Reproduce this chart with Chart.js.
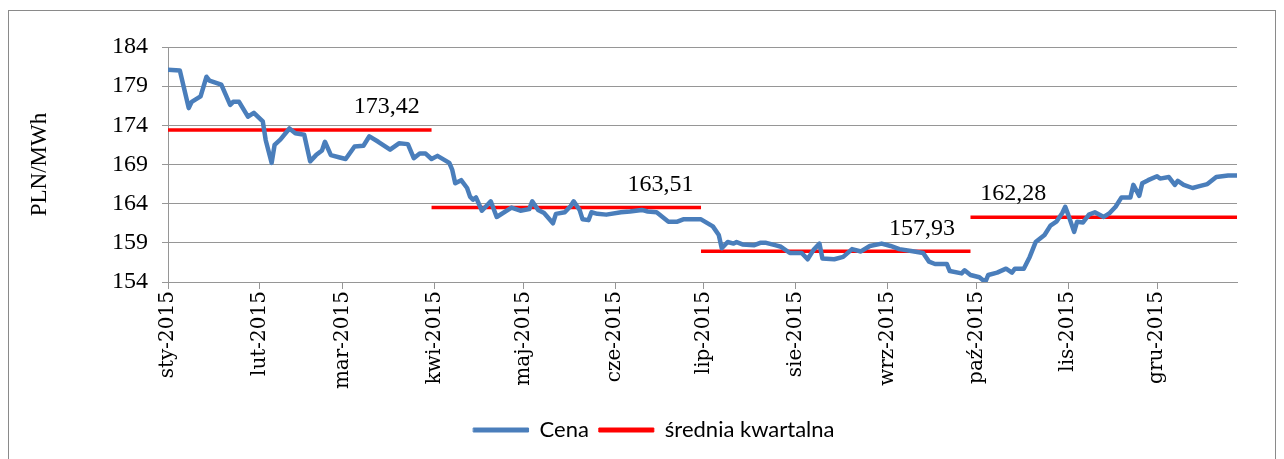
<!DOCTYPE html>
<html lang="pl">
<head>
<meta charset="utf-8">
<title>Cena energii 2015</title>
<script src="https://cdn.jsdelivr.net/npm/chart.js@4.4.1/dist/chart.umd.min.js"></script>
<style>
  html, body { margin: 0; padding: 0; background: #fff; }
  #wrap { width: 1284px; height: 459px; position: relative; }
</style>
</head>
<body>
<div id="wrap"><canvas id="chart"></canvas></div>
<script>
// Dzień roku (1 sty = 0) i cena w PLN/MWh
const dni = [0, 4, 7, 8, 11, 13, 14, 18, 21, 22, 24, 27, 29, 32, 33, 35, 36, 38, 41, 43, 46, 48, 50, 52, 53, 55, 58,
  60, 63, 66, 68, 71, 75, 78, 81, 83, 85, 87, 89, 91, 95, 96, 97, 99, 101, 102, 103, 104, 106, 109, 111, 116, 119,
  122, 123, 125, 127, 130, 131, 134, 136, 137, 139, 140, 142, 143, 145, 148, 153, 156, 160, 162, 165, 169, 172, 174, 180,
  184, 186, 187, 189, 191, 192, 194, 198, 200, 202, 205, 207, 210, 212, 214, 216, 218, 220, 221, 225, 228, 231, 234, 237, 241,
  244, 247, 252, 255, 257, 259, 263, 264, 268, 269, 271, 274, 276, 277, 280, 283, 285, 286, 289, 291, 293, 296, 298, 300, 302,
  303, 304, 306, 307, 309, 311, 313, 316, 318, 320, 322, 325, 326, 328, 329, 331, 334, 335, 338, 340, 341, 343, 346, 348, 351, 354, 358, 361];
const cena = [181.1, 181.0, 176.2, 177.0, 177.7, 180.2, 179.7, 179.2, 176.6, 177.0, 177.0, 175.1, 175.6, 174.5, 172.1, 169.2, 171.5, 172.2, 173.6, 173.0, 172.8, 169.4, 170.2, 170.8, 171.9, 170.2, 169.9,
  169.7, 171.3, 171.4, 172.6, 171.9, 170.9, 171.7, 171.6, 169.8, 170.4, 170.4, 169.7, 170.1, 169.2, 168.3, 166.6, 167.0, 166.0, 164.9, 164.5, 164.8, 163.1, 164.3, 162.3, 163.5, 163.1,
  163.3, 164.3, 163.2, 162.8, 161.5, 162.7, 162.9, 163.7, 164.3, 163.2, 162.0, 161.9, 162.9, 162.7, 162.6, 162.9, 163.0, 163.2, 163.0, 162.9, 161.7, 161.7, 162.0, 162.0,
  161.1, 160.0, 158.3, 159.1, 158.9, 159.1, 158.8, 158.7, 159.0, 159.0, 158.7, 158.5, 157.7, 157.7, 157.7, 156.9, 158.1, 158.9, 157.0, 156.9, 157.2, 158.2, 157.9, 158.6, 158.9,
  158.6, 158.2, 157.9, 157.7, 156.6, 156.3, 156.3, 155.4, 155.1, 155.5, 154.9, 154.6, 154.0, 154.9, 155.2, 155.7, 155.2, 155.7, 155.7, 157.2, 159.1, 160.0, 161.2, 161.7, 162.8,
  163.6, 162.6, 160.4, 161.7, 161.6, 162.6, 162.9, 162.3, 162.8, 163.6, 164.8, 164.8, 166.4, 165.0, 166.6, 167.0, 167.5, 167.2, 167.4, 166.4, 166.9, 166.4, 166.0, 166.2, 166.5, 167.4, 167.6, 167.6];

// Średnie kwartalne: od dnia, do dnia, wartość
const kwartalOd = [0, 89, 180, 271];
const kwartalDo = [89, 180, 271, 361];
const sredniaKwartalna = [173.42, 163.51, 157.93, 162.28];

// Oś X: pierwsze dni miesięcy i ich etykiety
const miesiacDzien = [0, 31, 59, 90, 120, 151, 181, 212, 243, 273, 304, 334];
const miesiacEtykieta = ['sty-2015', 'lut-2015', 'mar-2015', 'kwi-2015', 'maj-2015', 'cze-2015',
  'lip-2015', 'sie-2015', 'wrz-2015', 'paź-2015', 'lis-2015', 'gru-2015'];

// Oś Y
const yTicks = [154, 159, 164, 169, 174, 179, 184];

const BLUE = '#4A7EBB';
const RED = '#FF0000';
const GRID = '#969696';
const SERIF = "'Liberation Serif', 'Times New Roman', serif";
const WIDE_SERIF = "'DejaVu Serif', serif";

const cenaPoints = dni.map((d, i) => ({ x: d, y: cena[i] }));

// Red segments in one dataset, broken by null points
const sredniaPoints = [];
sredniaKwartalna.forEach((v, i) => {
  if (i > 0) sredniaPoints.push({ x: kwartalOd[i], y: null });
  sredniaPoints.push({ x: kwartalOd[i], y: v });
  sredniaPoints.push({ x: kwartalDo[i], y: v });
});

// Outer chart frame like the Excel chart area
const framePlugin = {
  id: 'frame',
  beforeDraw(chart) {
    const ctx = chart.ctx;
    ctx.save();
    ctx.fillStyle = '#fff';
    ctx.fillRect(0, 0, chart.width, chart.height);
    ctx.strokeStyle = '#8A8A8A';
    ctx.lineWidth = 1;
    ctx.strokeRect(8.5, 10.5, 1267, 470);
    ctx.restore();
  }
};

// Value labels above each quarterly average line
const avgLabelPlugin = {
  id: 'avgLabels',
  afterDatasetsDraw(chart, args, opts) {
    const { ctx, scales: { x, y } } = chart;
    ctx.save();
    ctx.font = opts.font;
    ctx.fillStyle = '#000';
    ctx.textAlign = 'center';
    ctx.textBaseline = 'middle';
    sredniaKwartalna.forEach((v, i) => {
      const x0 = x.getPixelForValue(kwartalOd[i]);
      const x1 = x.getPixelForValue(kwartalDo[i]);
      const px = x0 + (x1 - x0) * opts.anchor[i];
      const py = y.getPixelForValue(v) - opts.offset;
      ctx.fillText(v.toFixed(2).replace('.', ','), px, py);
    });
    ctx.restore();
  }
};

new Chart(document.getElementById('chart'), {
  type: 'line',
  data: {
    datasets: [{
      label: 'Cena',
      data: cenaPoints,
      borderColor: BLUE,
      backgroundColor: BLUE,
      borderWidth: 4.5,
      borderJoinStyle: 'round',
      borderCapStyle: 'round',
      pointRadius: 0,
      tension: 0
    }, {
      label: 'średnia kwartalna',
      data: sredniaPoints,
      borderColor: RED,
      backgroundColor: RED,
      borderWidth: 3.5,
      pointRadius: 0,
      spanGaps: false,
      tension: 0
    }]
  },
  options: {
    responsive: true,
    maintainAspectRatio: false,
    animation: false,
    layout: { padding: { left: 71, right: 47, top: 47, bottom: 8 } },
    scales: {
      x: {
        type: 'linear',
        min: 0,
        max: 361,
        afterBuildTicks: (scale) => {
          scale.ticks = miesiacDzien.map(v => ({ value: v }));
        },
        afterFit: (scale) => { scale.height = 127; },
        grid: {
          drawOnChartArea: false,
          drawTicks: true,
          tickLength: 7,
          color: GRID
        },
        border: { color: GRID, width: 1 },
        ticks: {
          autoSkip: false,
          minRotation: 90,
          maxRotation: 90,
          padding: 2,
          color: '#000',
          font: { family: WIDE_SERIF, size: 20 },
          callback: (v) => miesiacEtykieta[miesiacDzien.indexOf(v)]
        }
      },
      y: {
        min: 154,
        max: 184,
        afterBuildTicks: (scale) => {
          scale.ticks = yTicks.map(v => ({ value: v }));
        },
        afterFit: (scale) => { scale.width = 168 - 71; },
        grid: { color: GRID, tickLength: 6 },
        border: { color: GRID, width: 1 },
        ticks: {
          padding: 14,
          color: '#000',
          font: { family: SERIF, size: 24 }
        },
        title: {
          display: true,
          text: 'PLN/MWh',
          color: '#000',
          font: { family: SERIF, size: 23 },
          padding: { top: -45, bottom: 0 }
        }
      }
    },
    plugins: {
      tooltip: { enabled: false },
      legend: {
        position: 'bottom',
        labels: {
          boxWidth: 55,
          boxHeight: 4,
          padding: 10,
          color: '#000',
          font: { family: "Lato, 'Open Sans', sans-serif", size: 22 },
          generateLabels: (chart) => {
            const items = Chart.defaults.plugins.legend.labels.generateLabels(chart);
            items.forEach(it => { it.lineWidth = 1; it.strokeStyle = it.fillStyle; });
            return items;
          }
        }
      },
      avgLabels: {
        font: "24px 'Liberation Serif', serif",
        anchor: [0.83, 0.85, 0.82, 0.16],
        offset: 23
      }
    }
  },
  plugins: [framePlugin, avgLabelPlugin]
});
</script>
</body>
</html>
